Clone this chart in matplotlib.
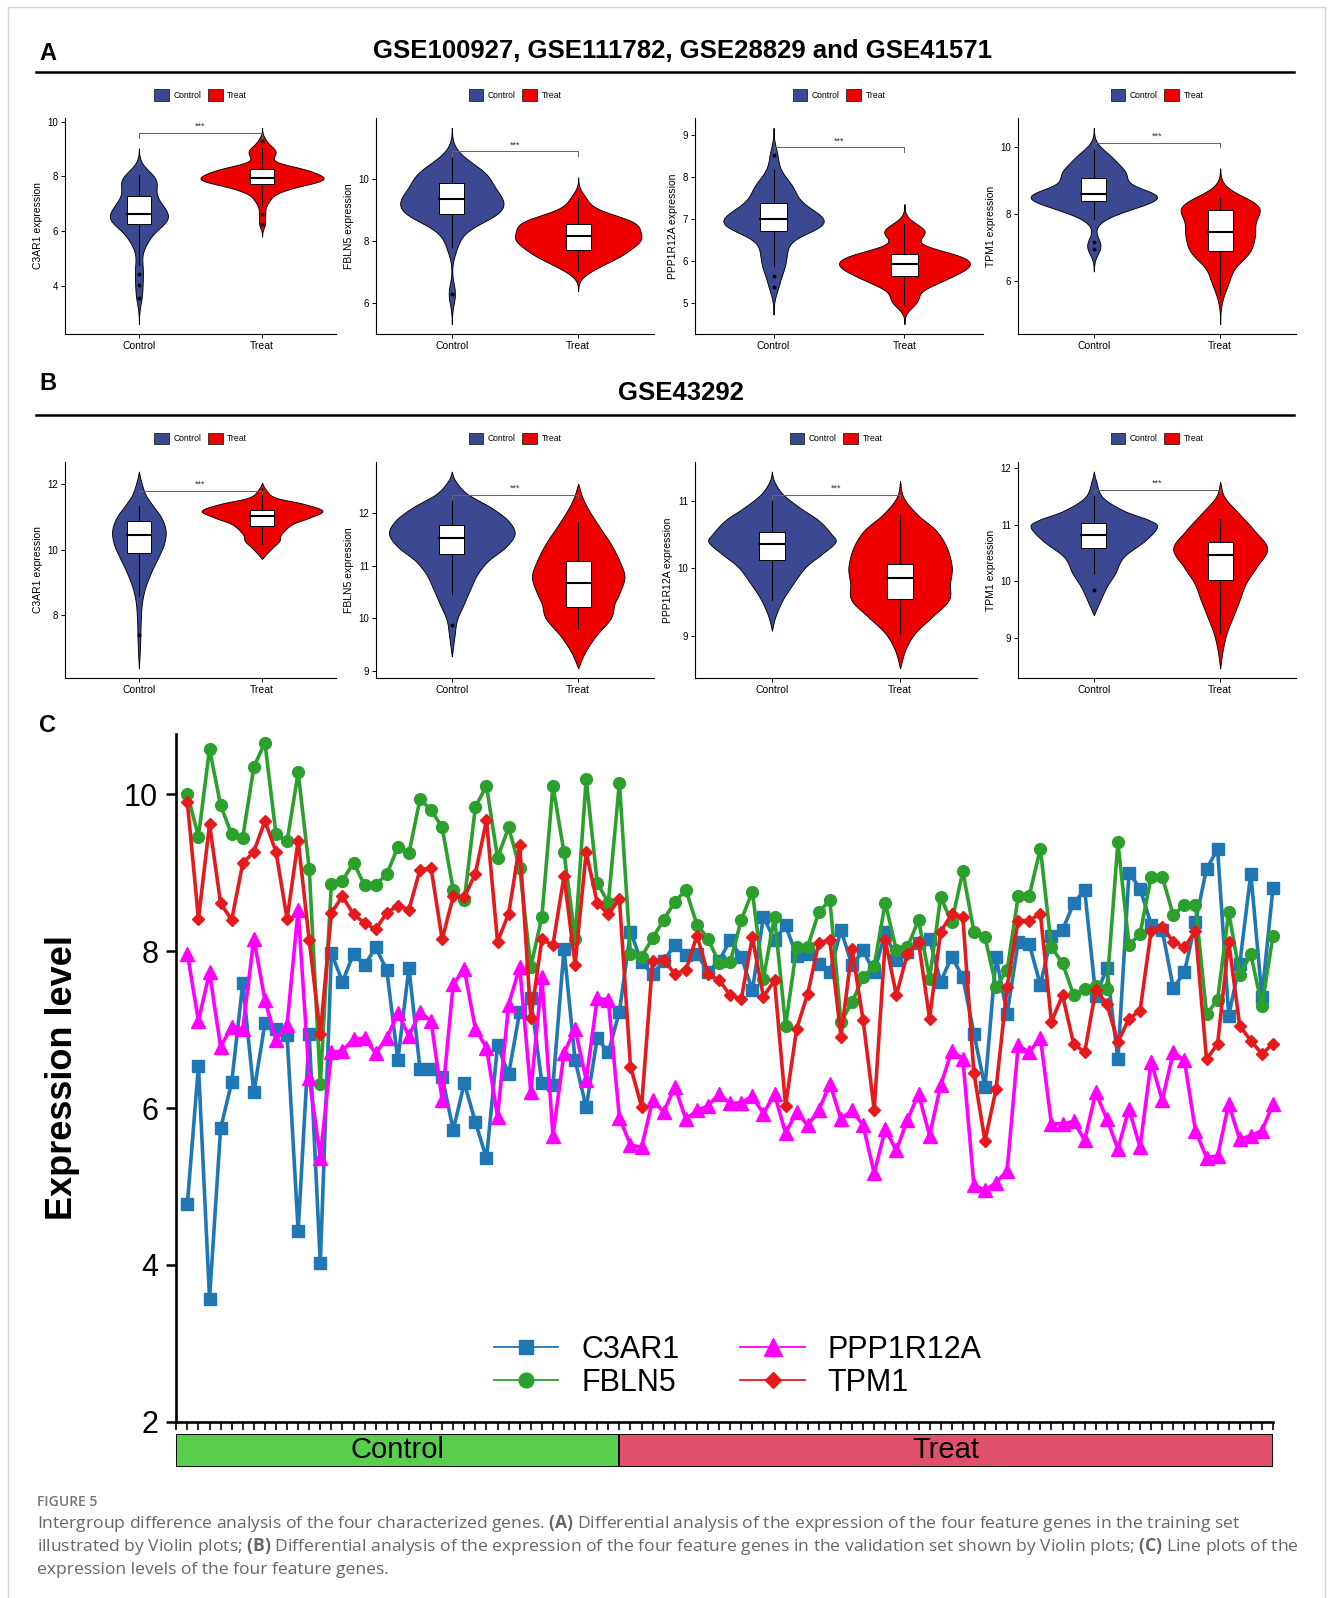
import numpy as np
import matplotlib
matplotlib.use("Agg")
import matplotlib.pyplot as plt
from matplotlib.patches import Patch, Rectangle
from matplotlib.lines import Line2D
from matplotlib.ticker import MultipleLocator

plt.rcParams['font.family'] = ['Liberation Sans', 'DejaVu Sans']
plt.rcParams['mathtext.fontset'] = 'custom'
plt.rcParams['mathtext.rm'] = 'Open Sans'
plt.rcParams['mathtext.bf'] = 'Open Sans:bold'

# ---------------- data ----------------
genes = ['C3AR1', 'FBLN5', 'PPP1R12A', 'TPM1']
groups = ['Control', 'Treat']
n_control = 40   # first 40 samples are controls, the remaining 59 treat

# training set expression per sample (panel C, also used for the violins of panel A)
c3ar1 = [4.78, 6.54, 3.57, 5.74, 6.33, 7.59, 6.20, 7.08, 7.01, 6.93,
         4.43, 6.94, 4.02, 7.98, 7.61, 7.97, 7.82, 8.05, 7.76, 6.61,
         7.79, 6.50, 6.50, 6.40, 5.72, 6.32, 5.82, 5.36, 6.80, 6.43,
         7.23, 7.40, 6.32, 6.29, 8.03, 6.61, 6.01, 6.89, 6.71, 7.23,
         8.25, 7.86, 7.71, 7.88, 8.08, 7.95, 7.97, 7.73, 7.88, 8.14,
         7.93, 7.50, 8.44, 8.14, 8.33, 7.94, 7.97, 7.84, 7.73, 8.27,
         7.82, 8.01, 7.73, 8.24, 7.89, 7.99, 8.10, 8.16, 7.61, 7.93,
         7.67, 6.95, 6.27, 7.93, 7.20, 8.12, 8.09, 7.57, 8.19, 8.27,
         8.61, 8.78, 7.43, 7.78, 6.62, 9.00, 8.80, 8.34, 8.27, 7.53,
         7.73, 8.37, 9.05, 9.30, 7.18, 7.84, 8.99, 7.42, 8.81]
fbln5 = [10.01, 9.46, 10.58, 9.86, 9.49, 9.45, 10.35, 10.66, 9.49, 9.40,
         10.28, 9.05, 6.31, 8.86, 8.90, 9.13, 8.84, 8.85, 8.98, 9.33,
         9.25, 9.94, 9.80, 9.58, 8.78, 8.65, 9.84, 10.11, 9.19, 9.58,
         9.06, 7.80, 8.44, 10.11, 9.26, 8.16, 10.20, 8.87, 8.62, 10.15,
         7.96, 7.93, 8.17, 8.40, 8.63, 8.78, 8.34, 8.16, 7.85, 7.86,
         8.40, 8.76, 7.65, 8.44, 7.05, 8.05, 8.06, 8.50, 8.65, 7.10,
         7.35, 7.67, 7.81, 8.62, 8.01, 8.05, 8.40, 7.65, 8.69, 8.37,
         9.02, 8.25, 8.18, 7.55, 7.76, 8.70, 8.71, 9.31, 8.05, 7.85,
         7.44, 7.52, 7.56, 7.52, 9.39, 8.08, 8.22, 8.95, 8.95, 8.46,
         8.59, 8.59, 7.20, 7.38, 8.50, 7.70, 7.96, 7.30, 8.20]
ppp1r12a = [7.97, 7.11, 7.73, 6.78, 7.04, 7.01, 8.16, 7.38, 6.87, 7.06,
            8.53, 6.38, 5.37, 6.71, 6.73, 6.88, 6.89, 6.70, 6.89, 7.21,
            6.92, 7.22, 7.11, 6.10, 7.58, 7.77, 7.01, 6.77, 5.89, 7.32,
            7.80, 6.21, 7.67, 5.65, 6.70, 7.01, 6.36, 7.40, 7.38, 5.88,
            5.53, 5.50, 6.10, 5.95, 6.27, 5.86, 5.97, 6.03, 6.18, 6.06,
            6.07, 6.15, 5.93, 6.18, 5.68, 5.95, 5.78, 5.97, 6.31, 5.86,
            5.97, 5.78, 5.17, 5.73, 5.46, 5.85, 6.18, 5.65, 6.29, 6.73,
            6.63, 5.02, 4.95, 5.05, 5.20, 6.80, 6.71, 6.90, 5.80, 5.80,
            5.83, 5.59, 6.20, 5.86, 5.48, 5.99, 5.50, 6.59, 6.10, 6.71,
            6.61, 5.71, 5.37, 5.39, 6.05, 5.60, 5.65, 5.71, 6.05]
tpm1 = [9.90, 8.41, 9.62, 8.61, 8.40, 9.12, 9.27, 9.66, 9.27, 8.41,
        9.41, 8.14, 6.94, 8.49, 8.70, 8.47, 8.36, 8.28, 8.49, 8.58,
        8.53, 9.04, 9.06, 8.15, 8.70, 8.69, 8.99, 9.67, 8.12, 8.48,
        9.36, 7.15, 8.15, 8.08, 8.96, 7.83, 9.26, 8.62, 8.47, 8.67,
        6.53, 6.02, 7.88, 7.89, 7.71, 7.76, 8.20, 7.71, 7.63, 7.44,
        7.39, 8.18, 7.42, 7.63, 6.03, 7.01, 7.46, 8.11, 8.14, 6.91,
        8.03, 7.12, 5.98, 8.14, 7.44, 7.97, 8.12, 7.14, 8.25, 8.47,
        8.44, 6.45, 5.58, 6.24, 7.55, 8.39, 8.39, 8.48, 7.10, 7.44,
        6.82, 6.71, 7.51, 7.33, 6.84, 7.14, 7.24, 8.26, 8.31, 8.12,
        8.05, 8.26, 6.62, 6.82, 8.12, 7.05, 6.86, 6.69, 6.82]

# validation set (GSE43292): violin outlines, (value, half width)
b_c3ar1_control = [(12.39, 0), (12.1, .017), (11.7, .052), (11.39, .105), (10.98, .182), (10.58, .217),
                   (10.17, .203), (9.77, .157), (9.36, .105), (8.85, .052), (8.35, .024), (7.74, .014),
                   (7.13, .010), (6.37, 0)]
b_c3ar1_treat = [(12.05, 0), (11.85, .028), (11.6, .105), (11.39, .35), (11.19, .49), (10.98, .385),
                 (10.78, .245), (10.48, .157), (10.27, .14), (10.07, .087), (9.87, .035), (9.72, 0)]
b_fbln5_control = [(12.79, 0), (12.62, .027), (12.37, .12), (12.11, .308), (11.86, .445), (11.61, .497),
                   (11.36, .428), (11.1, .291), (10.85, .205), (10.6, .154), (10.28, .096), (9.97, .041),
                   (9.66, .021), (9.28, 0)]
b_fbln5_treat = [(12.56, 0), (12.3, .034), (12.05, .086), (11.73, .171), (11.42, .257), (11.1, .325),
                 (10.79, .366), (10.47, .325), (10.28, .288), (10.0, .257), (9.66, .137), (9.34, .051),
                 (9.05, 0)]
b_ppp1r12a_control = [(11.43, 0), (11.29, .017), (11.1, .083), (10.9, .215), (10.71, .363), (10.51, .462),
                      (10.39, .495), (10.22, .396), (10.02, .264), (9.77, .165), (9.53, .083), (9.28, .026),
                      (9.08, 0)]
b_ppp1r12a_treat = [(11.29, 0), (11.05, .026), (10.8, .132), (10.56, .28), (10.31, .363), (10.02, .403),
                    (9.77, .389), (9.53, .38), (9.28, .248), (9.04, .116), (8.79, .04), (8.52, 0)]
b_tpm1_control = [(11.94, 0), (11.78, .017), (11.49, .068), (11.25, .236), (11.08, .439), (10.96, .5),
                  (10.72, .405), (10.43, .236), (10.14, .169), (9.9, .101), (9.61, .041), (9.4, 0)]
b_tpm1_treat = [(11.76, 0), (11.49, .034), (11.19, .152), (10.9, .27), (10.58, .372), (10.25, .287),
                (9.96, .203), (9.66, .152), (9.37, .101), (9.08, .051), (8.78, .02), (8.46, 0)]
# box stats (lower whisker, q1, median, q3, upper whisker) per gene
b_box_control = [[8.6, 9.89, 10.46, 10.88, 11.34], [10.46, 11.22, 11.53, 11.77, 12.24],
                 [9.53, 10.12, 10.36, 10.54, 10.99], [10.15, 10.59, 10.82, 11.03, 11.5]]
b_box_treat = [[10.19, 10.73, 11.02, 11.21, 11.9], [9.79, 10.22, 10.68, 11.09, 11.83],
               [9.03, 9.54, 9.86, 10.06, 10.79], [9.08, 10.03, 10.46, 10.69, 11.11]]
b_out_control = [[7.4], [9.87], [], [9.85]]
b_out_treat = [[], [], [], []]
b_bracket = [11.8, 12.35, 11.08, 11.62]

tick_step_a = [2, 2, 1, 2]
tick_step_b = [2, 1, 1, 1]

# ---------------- styling ----------------
W, H = 1328, 1598
violin_colors = ['#3B4992', '#EE0000']
line_colors = ['#1F77B4', '#2CA02C', '#FF00FF', '#E41A1C']
line_markers = ['s', 'o', '^', 'D']
line_ms = [8, 8.5, 10, 6.5]
bar_colors = ['#58CD4E', '#E0506B']

fig = plt.figure(figsize=(W / 100, H / 100), dpi=100)


def px_axes(x0, y0, x1, y1):
    return fig.add_axes([x0 / W, 1 - y1 / H, (x1 - x0) / W, (y1 - y0) / H])


def fig_text(x, y, s, **kw):
    return fig.text(x / W, 1 - y / H, s, **kw)


def smooth_outline(pts):
    pts = np.array(pts, float)
    P = np.vstack([pts[0], pts, pts[-1]])
    t = np.linspace(0, 1, 16, endpoint=False)[:, None]
    segs = []
    for i in range(1, len(P) - 2):
        p0, p1, p2, p3 = P[i - 1], P[i], P[i + 1], P[i + 2]
        segs.append(0.5 * (2 * p1 + (p2 - p0) * t + (2 * p0 - 5 * p1 + 4 * p2 - p3) * t ** 2
                           + (3 * p1 - p0 - 3 * p2 + p3) * t ** 3))
    segs.append(pts[-1:])
    c = np.vstack(segs)
    return c[:, 0], np.clip(c[:, 1], 0, None)


def kde(v):
    v = np.asarray(v)
    q1, q3 = np.percentile(v, [25, 75])
    bw = 0.9 * min(v.std(ddof=1), (q3 - q1) / 1.34) * len(v) ** -0.2
    y = np.linspace(v.min() - 3 * bw, v.max() + 3 * bw, 512)
    d = np.exp(-0.5 * ((y[:, None] - v[None, :]) / bw) ** 2).sum(1) / (len(v) * bw * np.sqrt(2 * np.pi))
    return y, d


def box_stats(v):
    v = np.asarray(v)
    q1, med, q3 = np.percentile(v, [25, 50, 75])
    iqr = q3 - q1
    keep = (v >= q1 - 1.5 * iqr) & (v <= q3 + 1.5 * iqr)
    return [v[keep].min(), q1, med, q3, v[keep].max()], list(v[~keep])


def violin_panel(ax, outlines, stats, outliers, bracket_y, tip, gene, step):
    for i, ((y, w), st, out, col) in enumerate(zip(outlines, stats, outliers, violin_colors)):
        xc = i + 1
        ax.fill_betweenx(y, xc - w, xc + w, facecolor=col, edgecolor='black', lw=0.65, zorder=1)
        lo, q1, med, q3, hi = st
        ax.plot([xc, xc], [lo, hi], color='black', lw=0.8, zorder=2)
        ax.add_patch(Rectangle((xc - 0.1, q1), 0.2, q3 - q1, fc='white', ec='black', lw=0.7, zorder=3))
        ax.plot([xc - 0.1, xc + 0.1], [med, med], color='black', lw=1.5, zorder=4)
        if len(out):
            ax.scatter([xc] * len(out), out, s=8, color='black', zorder=5, linewidths=0)
    ax.plot([1, 1, 2, 2], [bracket_y - tip, bracket_y, bracket_y, bracket_y - tip],
            color='#666666', lw=0.75, zorder=2)
    ax.annotate('***', (1.5, bracket_y), xytext=(0, 1.5), textcoords='offset points',
                ha='center', va='bottom', fontsize=6.5, color='#333333')
    lo = min(o[0].min() for o in outlines)
    hi = max(max(o[0].max() for o in outlines), bracket_y)
    pad = 0.05 * (hi - lo)
    ax.set_ylim(lo - pad, hi + pad)
    ax.set_xlim(0.4, 2.6)
    ax.set_xticks([1, 2])
    ax.set_xticklabels(groups)
    ax.yaxis.set_major_locator(MultipleLocator(step))
    ax.tick_params(axis='x', labelsize=7.5, length=3, width=0.7, pad=2)
    ax.tick_params(axis='y', labelsize=7, length=3, width=0.7, pad=2)
    for s in ['top', 'right']:
        ax.spines[s].set_visible(False)
    for s in ['left', 'bottom']:
        ax.spines[s].set_linewidth(0.8)
    ax.set_ylabel(f'{gene} expression', fontsize=7.5, labelpad=3)
    handles = [Patch(facecolor=c, edgecolor='#222222', lw=0.6) for c in violin_colors]
    ax.legend(handles, groups, ncol=2, loc='center', bbox_to_anchor=(0.5, 1 + 23 / 216),
              frameon=False, fontsize=6.2, handlelength=1.7, handleheight=1.7,
              handletextpad=0.5, columnspacing=0.8, borderpad=0)


train = [c3ar1, fbln5, ppp1r12a, tpm1]

# ---------------- panel A ----------------
row_a_x = [(65, 336), (376, 654), (695, 983), (1018, 1296)]
for k, gene in enumerate(genes):
    ax = px_axes(row_a_x[k][0], 118, row_a_x[k][1], 334)
    vals = np.array(train[k])
    parts = [vals[:n_control], vals[n_control:]]
    dens = [kde(p) for p in parts]
    dmax = max(d.max() for _, d in dens)
    outlines = [(y, d / dmax * 0.5) for y, d in dens]
    st = [box_stats(p) for p in parts]
    rng = vals.max() - vals.min()
    violin_panel(ax, outlines, [s[0] for s in st], [s[1] for s in st],
                 vals.max() + 0.05 * rng, 0.03 * rng, gene, tick_step_a[k])

# ---------------- panel B ----------------
row_b_x = [(65, 336), (376, 654), (695, 977), (1018, 1296)]
b_shapes = [(b_c3ar1_control, b_c3ar1_treat), (b_fbln5_control, b_fbln5_treat),
            (b_ppp1r12a_control, b_ppp1r12a_treat), (b_tpm1_control, b_tpm1_treat)]
for k, gene in enumerate(genes):
    ax = px_axes(row_b_x[k][0], 461.7, row_b_x[k][1], 678.3)
    outlines = [smooth_outline(s) for s in b_shapes[k]]
    lo = min(o[0].min() for o in outlines)
    hi = max(o[0].max() for o in outlines)
    violin_panel(ax, outlines, [b_box_control[k], b_box_treat[k]],
                 [b_out_control[k], b_out_treat[k]], b_bracket[k], 0.03 * (hi - lo) * 0.6,
                 gene, tick_step_b[k])

# ---------------- panel C ----------------
axc = px_axes(176.3, 734, 1273, 1421.8)
x = np.arange(1, len(c3ar1) + 1)
for vals, gene, col, mk, ms in zip(train, genes, line_colors, line_markers, line_ms):
    axc.plot(x, vals, color=col, lw=2.6, marker=mk, ms=ms, mec=col, label=gene, clip_on=False)
axc.set_xlim(0, len(x))
axc.set_ylim(2, 10.77)
axc.set_yticks([2, 4, 6, 8, 10])
axc.set_xticks(np.arange(0, len(x) + 1))
axc.set_xticklabels([])
axc.tick_params(axis='y', labelsize=22, length=7, width=1.8, pad=6)
axc.tick_params(axis='x', length=6, width=1.2)
for s in ['top', 'right']:
    axc.spines[s].set_visible(False)
for s in ['left', 'bottom']:
    axc.spines[s].set_linewidth(1.9)
axc.set_ylabel('Expression level', fontsize=26, fontweight='bold')
axc.yaxis.set_label_coords(-0.088, 0.5)
leg_handles = [Line2D([], [], color=c, lw=1.3, marker=m, ms=s * 1.25, mec=c)
               for c, m, s in zip(line_colors, line_markers, line_ms)]
axc.legend(leg_handles, genes, ncol=2, loc='center', bbox_to_anchor=(0.512, 0.081),
           frameon=False, fontsize=22, handlelength=2.1, handletextpad=0.75,
           columnspacing=2.0, labelspacing=0.1)

axbar = px_axes(176.3, 1434, 1273, 1467)
spans = [(0, n_control), (n_control, len(x))]
for (a, b), col, lab in zip(spans, bar_colors, groups):
    axbar.barh(0, b - a, left=a, height=1, color=col, edgecolor='black', lw=1.3)
    axbar.text((a + b) / 2, 0, lab, ha='center', va='center', fontsize=21)
axbar.set_xlim(0, len(x))
axbar.set_ylim(-0.5, 0.5)
axbar.axis('off')

# ---------------- titles, rules, caption ----------------
fig_text(48, 54, 'A', fontsize=17, fontweight='bold', ha='center', va='center')
fig_text(48, 383, 'B', fontsize=17, fontweight='bold', ha='center', va='center')
fig_text(48, 726, 'C', fontsize=17, fontweight='bold', ha='center', va='center')
fig_text(683, 51, 'GSE100927, GSE111782, GSE28829 and GSE41571', fontsize=18.5,
         fontweight='bold', ha='center', va='center')
fig_text(681, 393, 'GSE43292', fontsize=18.5, fontweight='bold', ha='center', va='center')
for yr in [71.5, 415]:
    fig.add_artist(Line2D([36 / W, 1294 / W], [1 - yr / H, 1 - yr / H], color='black', lw=1.8))

for xs, ys in [([8, 8], [7, H]), ([1325, 1325], [7, H]), ([8, 1325], [7, 7])]:
    fig.add_artist(Line2D([v / W for v in xs], [1 - v / H for v in ys], color='#d4d4d4', lw=1))

fig_text(37, 1502, 'FIGURE 5', fontsize=10, family='Open Sans', fontweight='semibold',
         color='#777777', va='center')
caption = [r'Intergroup difference analysis of the four characterized genes. $\mathbf{(A)}$ Differential analysis of the expression of the four feature genes in the training set',
           r'illustrated by Violin plots; $\mathbf{(B)}$ Differential analysis of the expression of the four feature genes in the validation set shown by Violin plots; $\mathbf{(C)}$ Line plots of the',
           r'expression levels of the four feature genes.']
for yy, line in zip([1523, 1546.5, 1570], caption):
    fig_text(37, yy, line, fontsize=12.6, family='Open Sans', color='#666666', va='center')

fig.savefig('out.png', dpi=100)
